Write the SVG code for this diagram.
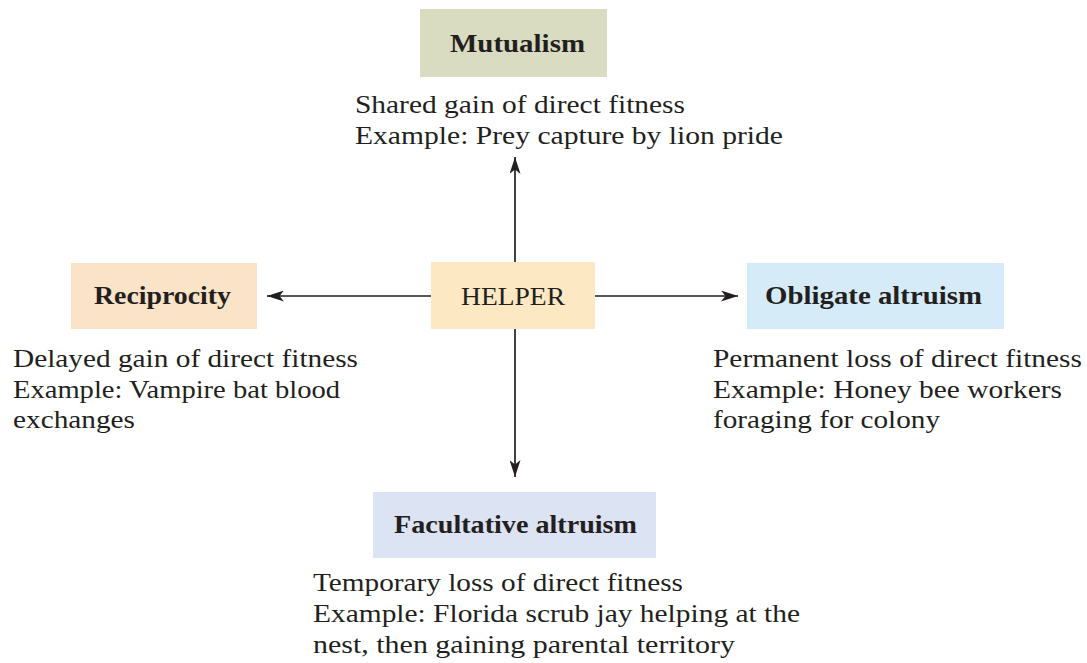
<svg xmlns="http://www.w3.org/2000/svg" width="1087" height="663" viewBox="0 0 1087 663">
<style>
text{font-family:"Liberation Serif","Times New Roman",serif;fill:#231f20;font-size:26px}
.b{font-weight:bold;font-size:26px}
.c{stroke:#231f20;stroke-width:1.7;fill:none}
</style>
<defs>
<marker id="ah" viewBox="0 0 17 11" refX="17" refY="5.5" markerWidth="17" markerHeight="11" markerUnits="userSpaceOnUse" orient="auto">
<path d="M0,0 L17,5.5 L0,11 L4.5,5.5 Z" fill="#231f20"/>
</marker>
</defs>
<rect width="1087" height="663" fill="#ffffff"/>
<g id="connectors">
<line class="c" x1="515" y1="262" x2="515" y2="157" marker-end="url(#ah)"/>
<line class="c" x1="431" y1="296" x2="267" y2="296" marker-end="url(#ah)"/>
<line class="c" x1="595" y1="296" x2="738" y2="296" marker-end="url(#ah)"/>
<line class="c" x1="515" y1="329" x2="515" y2="477" marker-end="url(#ah)"/>
</g>
<g id="helper">
<rect x="431" y="262" width="164" height="67" fill="#fce9c3"/>
<text x="461" y="305" textLength="104" lengthAdjust="spacingAndGlyphs">HELPER</text>
</g>
<g id="mutualism">
<rect x="420" y="9" width="187" height="68" fill="#d9dcc1"/>
<text class="b" x="450" y="52" textLength="135" lengthAdjust="spacingAndGlyphs">Mutualism</text>
<text x="355" y="113" textLength="330" lengthAdjust="spacingAndGlyphs">Shared gain of direct fitness</text>
<text x="355" y="144" textLength="428" lengthAdjust="spacingAndGlyphs">Example: Prey capture by lion pride</text>
</g>
<g id="reciprocity">
<rect x="71" y="263" width="186" height="66" fill="#fbe3c8"/>
<text class="b" x="94" y="304" textLength="137" lengthAdjust="spacingAndGlyphs">Reciprocity</text>
<text x="13" y="367" textLength="345" lengthAdjust="spacingAndGlyphs">Delayed gain of direct fitness</text>
<text x="13" y="398" textLength="327" lengthAdjust="spacingAndGlyphs">Example: Vampire bat blood</text>
<text x="13" y="428" textLength="122" lengthAdjust="spacingAndGlyphs">exchanges</text>
</g>
<g id="obligate">
<rect x="747" y="263" width="257" height="66" fill="#d5ebf8"/>
<text class="b" x="765" y="304" textLength="217" lengthAdjust="spacingAndGlyphs">Obligate altruism</text>
<text x="713" y="367" textLength="369" lengthAdjust="spacingAndGlyphs">Permanent loss of direct fitness</text>
<text x="713" y="398" textLength="349" lengthAdjust="spacingAndGlyphs">Example: Honey bee workers</text>
<text x="713" y="428" textLength="227" lengthAdjust="spacingAndGlyphs">foraging for colony</text>
</g>
<g id="facultative">
<rect x="373" y="492" width="283" height="66" fill="#dce3f3"/>
<text class="b" x="394" y="533" textLength="243" lengthAdjust="spacingAndGlyphs">Facultative altruism</text>
<text x="313" y="591" textLength="370" lengthAdjust="spacingAndGlyphs">Temporary loss of direct fitness</text>
<text x="313" y="622" textLength="487" lengthAdjust="spacingAndGlyphs">Example: Florida scrub jay helping at the</text>
<text x="313" y="653" textLength="422" lengthAdjust="spacingAndGlyphs">nest, then gaining parental territory</text>
</g>
</svg>
